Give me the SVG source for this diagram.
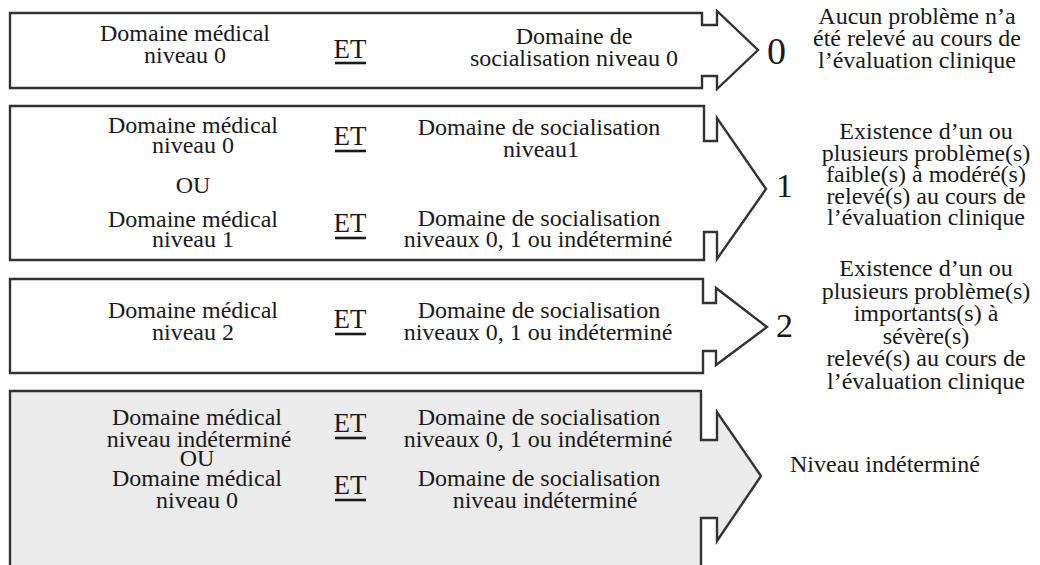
<svg xmlns="http://www.w3.org/2000/svg" width="1040" height="565" viewBox="0 0 1040 565">
<style>
.arrow{fill:#ffffff;stroke:#333333;stroke-width:2.4;stroke-linejoin:miter}
.grey{fill:#ebebeb}
text{font-family:"Liberation Serif","Times New Roman",serif;fill:#1a1a1a;font-size:24px;text-anchor:middle}
.et{font-size:27px}
.big{font-size:34px;text-anchor:start}
.left{text-anchor:start}
.ul{stroke:#1a1a1a;stroke-width:2.6}
</style>
<rect width="1040" height="565" fill="#ffffff"/>
<g id="connectors"/>
<g id="row0">
<path class="arrow" d="M10,13 H702 V25 H717 V11 L758,50 L717,89 V76 H702 V88 H10 Z"/>
<text x="185" y="41">Domaine médical</text>
<text x="185" y="63">niveau 0</text>
<text class="et" x="350" y="58">ET</text>
<line class="ul" x1="335" y1="63" x2="366" y2="63"/>
<text x="574" y="44">Domaine de</text>
<text x="574" y="66">socialisation niveau 0</text>
</g>
<g id="result0">
<text class="big" x="767" y="64" style="font-size:38px">0</text>
<text x="917" y="24">Aucun problème n’a</text>
<text x="917" y="46">été relevé au cours de</text>
<text x="917" y="68">l’évaluation clinique</text>
</g>
<g id="row1">
<path class="arrow" d="M10,106 H704 V141 H717 V118 L766,189 L717,259 V232 H704 V260 H10 Z"/>
<text x="193" y="133">Domaine médical</text>
<text x="193" y="153">niveau 0</text>
<text x="193" y="193">OU</text>
<text x="193" y="227">Domaine médical</text>
<text x="193" y="247">niveau 1</text>
<text class="et" x="350" y="145">ET</text>
<line class="ul" x1="335" y1="151" x2="366" y2="151"/>
<text class="et" x="350" y="232">ET</text>
<line class="ul" x1="335" y1="238" x2="366" y2="238"/>
<text x="539" y="135">Domaine de socialisation</text>
<text x="541" y="157">niveau1</text>
<text x="539" y="226">Domaine de socialisation</text>
<text x="538" y="247">niveaux 0, 1 ou indéterminé</text>
</g>
<g id="result1">
<text class="big" x="776" y="197">1</text>
<text x="926" y="139">Existence d’un ou</text>
<text x="926" y="160.6">plusieurs problème(s)</text>
<text x="926" y="182.2">faible(s) à modéré(s)</text>
<text x="926" y="203.8">relevé(s) au cours de</text>
<text x="926" y="225.4">l’évaluation clinique</text>
</g>
<g id="row2">
<path class="arrow" d="M10,279 H703 V303 H716 V288 L767,327 L716,365 V351 H703 V373 H10 Z"/>
<text x="193" y="318">Domaine médical</text>
<text x="193" y="340">niveau 2</text>
<text class="et" x="350" y="328">ET</text>
<line class="ul" x1="335" y1="334" x2="366" y2="334"/>
<text x="539" y="318">Domaine de socialisation</text>
<text x="538" y="340">niveaux 0, 1 ou indéterminé</text>
</g>
<g id="result2">
<text class="big" x="776" y="337">2</text>
<text x="926" y="276">Existence d’un ou</text>
<text x="926" y="298.5">plusieurs problème(s)</text>
<text x="926" y="321">importants(s) à</text>
<text x="926" y="343.5">sévère(s)</text>
<text x="926" y="366">relevé(s) au cours de</text>
<text x="926" y="388.5">l’évaluation clinique</text>
</g>
<g id="row3">
<path class="arrow grey" d="M10,575 V391 H701 V440 H717 V412 L761,476 L717,541 V518 H701 V575 Z"/>
<text x="197" y="425">Domaine médical</text>
<text x="199" y="447">niveau indéterminé</text>
<text x="197" y="466">OU</text>
<text x="197" y="486">Domaine médical</text>
<text x="197" y="508">niveau 0</text>
<text class="et" x="350" y="432">ET</text>
<line class="ul" x1="335" y1="438" x2="366" y2="438"/>
<text class="et" x="350" y="494">ET</text>
<line class="ul" x1="335" y1="500" x2="366" y2="500"/>
<text x="539" y="425">Domaine de socialisation</text>
<text x="538" y="447">niveaux 0, 1 ou indéterminé</text>
<text x="539" y="486">Domaine de socialisation</text>
<text x="545" y="508">niveau indéterminé</text>
</g>
<g id="result3">
<text class="left" x="790" y="472">Niveau indéterminé</text>
</g>
</svg>
